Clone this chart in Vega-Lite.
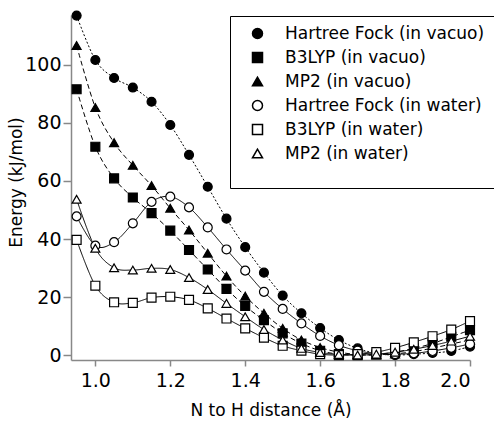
{
  "$schema": "https://vega.github.io/schema/vega-lite/v6.json",
  "autosize": {"type": "none"},
  "padding": {"left": 71, "top": 15, "right": 24, "bottom": 63},
  "width": 399,
  "height": 345,
  "background": "white",
  "config": {
    "view": {"stroke": null},
    "font": "DejaVu Sans",
    "axis": {
      "grid": false,
      "domainColor": "#888888",
      "tickColor": "#888888",
      "domainWidth": 1.5,
      "tickWidth": 1.5,
      "labelColor": "black",
      "titleColor": "black",
      "labelFont": "DejaVu Sans",
      "titleFont": "DejaVu Sans",
      "labelFontSize": 19,
      "titleFontSize": 17,
      "titleFontWeight": "normal"
    },
    "legend": {
      "labelFont": "DejaVu Sans",
      "labelFontSize": 17,
      "labelColor": "black",
      "labelLimit": 400
    }
  },
  "data": {
    "values": [
      {"x": 0.95, "E": 117.0, "s": "Hartree Fock (in vacuo)"},
      {"x": 1.0, "E": 101.7, "s": "Hartree Fock (in vacuo)"},
      {"x": 1.05, "E": 95.5, "s": "Hartree Fock (in vacuo)"},
      {"x": 1.1, "E": 92.2, "s": "Hartree Fock (in vacuo)"},
      {"x": 1.15, "E": 87.3, "s": "Hartree Fock (in vacuo)"},
      {"x": 1.2, "E": 79.3, "s": "Hartree Fock (in vacuo)"},
      {"x": 1.25, "E": 69.0, "s": "Hartree Fock (in vacuo)"},
      {"x": 1.3, "E": 58.0, "s": "Hartree Fock (in vacuo)"},
      {"x": 1.35, "E": 47.0, "s": "Hartree Fock (in vacuo)"},
      {"x": 1.4, "E": 37.2, "s": "Hartree Fock (in vacuo)"},
      {"x": 1.45, "E": 28.4, "s": "Hartree Fock (in vacuo)"},
      {"x": 1.5, "E": 20.5, "s": "Hartree Fock (in vacuo)"},
      {"x": 1.55, "E": 14.4, "s": "Hartree Fock (in vacuo)"},
      {"x": 1.6, "E": 9.3, "s": "Hartree Fock (in vacuo)"},
      {"x": 1.65, "E": 5.2, "s": "Hartree Fock (in vacuo)"},
      {"x": 1.7, "E": 2.3, "s": "Hartree Fock (in vacuo)"},
      {"x": 1.75, "E": 0.6, "s": "Hartree Fock (in vacuo)"},
      {"x": 1.8, "E": 0.0, "s": "Hartree Fock (in vacuo)"},
      {"x": 1.85, "E": 0.3, "s": "Hartree Fock (in vacuo)"},
      {"x": 1.9, "E": 0.7, "s": "Hartree Fock (in vacuo)"},
      {"x": 1.95, "E": 1.4, "s": "Hartree Fock (in vacuo)"},
      {"x": 2.0, "E": 2.9, "s": "Hartree Fock (in vacuo)"},

      {"x": 0.95, "E": 91.6, "s": "B3LYP (in vacuo)"},
      {"x": 1.0, "E": 71.8, "s": "B3LYP (in vacuo)"},
      {"x": 1.05, "E": 60.9, "s": "B3LYP (in vacuo)"},
      {"x": 1.1, "E": 54.3, "s": "B3LYP (in vacuo)"},
      {"x": 1.15, "E": 48.9, "s": "B3LYP (in vacuo)"},
      {"x": 1.2, "E": 42.9, "s": "B3LYP (in vacuo)"},
      {"x": 1.25, "E": 36.2, "s": "B3LYP (in vacuo)"},
      {"x": 1.3, "E": 29.5, "s": "B3LYP (in vacuo)"},
      {"x": 1.35, "E": 22.8, "s": "B3LYP (in vacuo)"},
      {"x": 1.4, "E": 16.9, "s": "B3LYP (in vacuo)"},
      {"x": 1.45, "E": 12.0, "s": "B3LYP (in vacuo)"},
      {"x": 1.5, "E": 7.5, "s": "B3LYP (in vacuo)"},
      {"x": 1.55, "E": 4.0, "s": "B3LYP (in vacuo)"},
      {"x": 1.6, "E": 1.5, "s": "B3LYP (in vacuo)"},
      {"x": 1.65, "E": 0.3, "s": "B3LYP (in vacuo)"},
      {"x": 1.7, "E": 0.0, "s": "B3LYP (in vacuo)"},
      {"x": 1.75, "E": 0.2, "s": "B3LYP (in vacuo)"},
      {"x": 1.8, "E": 1.0, "s": "B3LYP (in vacuo)"},
      {"x": 1.85, "E": 2.3, "s": "B3LYP (in vacuo)"},
      {"x": 1.9, "E": 4.0, "s": "B3LYP (in vacuo)"},
      {"x": 1.95, "E": 6.3, "s": "B3LYP (in vacuo)"},
      {"x": 2.0, "E": 8.6, "s": "B3LYP (in vacuo)"},

      {"x": 0.95, "E": 106.7, "s": "MP2 (in vacuo)"},
      {"x": 1.0, "E": 85.3, "s": "MP2 (in vacuo)"},
      {"x": 1.05, "E": 73.2, "s": "MP2 (in vacuo)"},
      {"x": 1.1, "E": 65.4, "s": "MP2 (in vacuo)"},
      {"x": 1.15, "E": 58.4, "s": "MP2 (in vacuo)"},
      {"x": 1.2, "E": 50.6, "s": "MP2 (in vacuo)"},
      {"x": 1.25, "E": 43.1, "s": "MP2 (in vacuo)"},
      {"x": 1.3, "E": 35.1, "s": "MP2 (in vacuo)"},
      {"x": 1.35, "E": 27.2, "s": "MP2 (in vacuo)"},
      {"x": 1.4, "E": 20.3, "s": "MP2 (in vacuo)"},
      {"x": 1.45, "E": 14.4, "s": "MP2 (in vacuo)"},
      {"x": 1.5, "E": 9.2, "s": "MP2 (in vacuo)"},
      {"x": 1.55, "E": 5.2, "s": "MP2 (in vacuo)"},
      {"x": 1.6, "E": 2.6, "s": "MP2 (in vacuo)"},
      {"x": 1.65, "E": 1.0, "s": "MP2 (in vacuo)"},
      {"x": 1.7, "E": 0.2, "s": "MP2 (in vacuo)"},
      {"x": 1.75, "E": 0.0, "s": "MP2 (in vacuo)"},
      {"x": 1.8, "E": 0.4, "s": "MP2 (in vacuo)"},
      {"x": 1.85, "E": 1.2, "s": "MP2 (in vacuo)"},
      {"x": 1.9, "E": 2.4, "s": "MP2 (in vacuo)"},
      {"x": 1.95, "E": 3.8, "s": "MP2 (in vacuo)"},
      {"x": 2.0, "E": 5.2, "s": "MP2 (in vacuo)"},

      {"x": 0.95, "E": 47.8, "s": "Hartree Fock (in water)"},
      {"x": 1.0, "E": 37.7, "s": "Hartree Fock (in water)"},
      {"x": 1.05, "E": 38.9, "s": "Hartree Fock (in water)"},
      {"x": 1.1, "E": 45.4, "s": "Hartree Fock (in water)"},
      {"x": 1.15, "E": 52.8, "s": "Hartree Fock (in water)"},
      {"x": 1.2, "E": 54.6, "s": "Hartree Fock (in water)"},
      {"x": 1.25, "E": 50.9, "s": "Hartree Fock (in water)"},
      {"x": 1.3, "E": 44.0, "s": "Hartree Fock (in water)"},
      {"x": 1.35, "E": 36.4, "s": "Hartree Fock (in water)"},
      {"x": 1.4, "E": 29.1, "s": "Hartree Fock (in water)"},
      {"x": 1.45, "E": 21.8, "s": "Hartree Fock (in water)"},
      {"x": 1.5, "E": 15.9, "s": "Hartree Fock (in water)"},
      {"x": 1.55, "E": 10.9, "s": "Hartree Fock (in water)"},
      {"x": 1.6, "E": 6.6, "s": "Hartree Fock (in water)"},
      {"x": 1.65, "E": 3.4, "s": "Hartree Fock (in water)"},
      {"x": 1.7, "E": 1.5, "s": "Hartree Fock (in water)"},
      {"x": 1.75, "E": 0.5, "s": "Hartree Fock (in water)"},
      {"x": 1.8, "E": 0.3, "s": "Hartree Fock (in water)"},
      {"x": 1.85, "E": 0.6, "s": "Hartree Fock (in water)"},
      {"x": 1.9, "E": 1.4, "s": "Hartree Fock (in water)"},
      {"x": 1.95, "E": 2.5, "s": "Hartree Fock (in water)"},
      {"x": 2.0, "E": 3.8, "s": "Hartree Fock (in water)"},

      {"x": 0.95, "E": 39.7, "s": "B3LYP (in water)"},
      {"x": 1.0, "E": 23.9, "s": "B3LYP (in water)"},
      {"x": 1.05, "E": 18.2, "s": "B3LYP (in water)"},
      {"x": 1.1, "E": 18.0, "s": "B3LYP (in water)"},
      {"x": 1.15, "E": 19.8, "s": "B3LYP (in water)"},
      {"x": 1.2, "E": 20.1, "s": "B3LYP (in water)"},
      {"x": 1.25, "E": 19.0, "s": "B3LYP (in water)"},
      {"x": 1.3, "E": 16.1, "s": "B3LYP (in water)"},
      {"x": 1.35, "E": 12.6, "s": "B3LYP (in water)"},
      {"x": 1.4, "E": 9.2, "s": "B3LYP (in water)"},
      {"x": 1.45, "E": 6.0, "s": "B3LYP (in water)"},
      {"x": 1.5, "E": 3.2, "s": "B3LYP (in water)"},
      {"x": 1.55, "E": 1.5, "s": "B3LYP (in water)"},
      {"x": 1.6, "E": 0.3, "s": "B3LYP (in water)"},
      {"x": 1.65, "E": 0.0, "s": "B3LYP (in water)"},
      {"x": 1.7, "E": 0.3, "s": "B3LYP (in water)"},
      {"x": 1.75, "E": 1.0, "s": "B3LYP (in water)"},
      {"x": 1.8, "E": 2.5, "s": "B3LYP (in water)"},
      {"x": 1.85, "E": 4.4, "s": "B3LYP (in water)"},
      {"x": 1.9, "E": 6.5, "s": "B3LYP (in water)"},
      {"x": 1.95, "E": 8.8, "s": "B3LYP (in water)"},
      {"x": 2.0, "E": 11.7, "s": "B3LYP (in water)"},

      {"x": 0.95, "E": 53.7, "s": "MP2 (in water)"},
      {"x": 1.0, "E": 36.8, "s": "MP2 (in water)"},
      {"x": 1.05, "E": 30.1, "s": "MP2 (in water)"},
      {"x": 1.1, "E": 29.3, "s": "MP2 (in water)"},
      {"x": 1.15, "E": 29.9, "s": "MP2 (in water)"},
      {"x": 1.2, "E": 29.5, "s": "MP2 (in water)"},
      {"x": 1.25, "E": 26.7, "s": "MP2 (in water)"},
      {"x": 1.3, "E": 22.6, "s": "MP2 (in water)"},
      {"x": 1.35, "E": 17.8, "s": "MP2 (in water)"},
      {"x": 1.4, "E": 13.2, "s": "MP2 (in water)"},
      {"x": 1.45, "E": 8.8, "s": "MP2 (in water)"},
      {"x": 1.5, "E": 5.2, "s": "MP2 (in water)"},
      {"x": 1.55, "E": 2.3, "s": "MP2 (in water)"},
      {"x": 1.6, "E": 0.9, "s": "MP2 (in water)"},
      {"x": 1.65, "E": 0.2, "s": "MP2 (in water)"},
      {"x": 1.7, "E": 0.0, "s": "MP2 (in water)"},
      {"x": 1.75, "E": 0.3, "s": "MP2 (in water)"},
      {"x": 1.8, "E": 1.0, "s": "MP2 (in water)"},
      {"x": 1.85, "E": 2.0, "s": "MP2 (in water)"},
      {"x": 1.9, "E": 3.3, "s": "MP2 (in water)"},
      {"x": 1.95, "E": 4.8, "s": "MP2 (in water)"},
      {"x": 2.0, "E": 6.5, "s": "MP2 (in water)"}
    ]
  },
  "encoding": {
    "x": {
      "field": "x", "type": "quantitative",
      "scale": {"domain": [0.935, 2.0], "nice": false, "zero": false},
      "axis": {
        "title": "N to H distance (Å)",
        "values": [1.0, 1.2, 1.4, 1.6, 1.8, 2.0],
        "format": ".1f",
        "tickSize": 6,
        "labelPadding": 5,
        "titleY": 42
      }
    },
    "y": {
      "field": "E", "type": "quantitative",
      "scale": {"domain": [-1.7, 117.2], "nice": false, "zero": false},
      "axis": {
        "title": "Energy (kJ/mol)",
        "values": [0, 20, 40, 60, 80, 100],
        "tickSize": 8,
        "labelPadding": 2,
        "titleX": -46,
        "titleY": 167
      }
    }
  },
  "layer": [
    {
      "mark": {"type": "line", "interpolate": "cardinal", "color": "black", "strokeWidth": 1},
      "encoding": {
        "detail": {"field": "s"},
        "strokeDash": {
          "field": "s",
          "scale": {
            "domain": ["MP2 (in water)", "B3LYP (in water)", "Hartree Fock (in water)", "MP2 (in vacuo)", "B3LYP (in vacuo)", "Hartree Fock (in vacuo)"],
            "range": [[1, 0], [1, 0], [1, 0], [5, 3], [5, 3], [2, 2]]
          },
          "legend": null
        }
      }
    },
    {
      "mark": {"type": "point", "filled": false, "strokeWidth": 1.2, "opacity": 1, "size": 80},
      "encoding": {
        "shape": {
          "field": "s", "type": "nominal",
          "scale": {
            "domain": ["Hartree Fock (in vacuo)", "B3LYP (in vacuo)", "MP2 (in vacuo)", "Hartree Fock (in water)", "B3LYP (in water)", "MP2 (in water)"],
            "range": ["circle", "square", "triangle-up", "circle", "square", "triangle-up"]
          },
          "legend": {
            "title": " ",
            "titleOrient": "bottom",
            "titleFontSize": 12,
            "titlePadding": 6,
            "orient": "none",
            "legendX": 159,
            "legendY": 1,
            "strokeColor": "black",
            "padding": 9,
            "rowPadding": 6,
            "symbolOffset": 10,
            "labelOffset": 19,
            "symbolSize": 100,
            "symbolStrokeWidth": 1.5
          }
        },
        "fill": {
          "field": "s", "type": "nominal",
          "scale": {
            "domain": ["Hartree Fock (in vacuo)", "B3LYP (in vacuo)", "MP2 (in vacuo)", "Hartree Fock (in water)", "B3LYP (in water)", "MP2 (in water)"],
            "range": ["black", "black", "black", "white", "white", "white"]
          },
          "legend": {
            "title": " ",
            "titleOrient": "bottom",
            "titleFontSize": 12,
            "titlePadding": 6,
            "orient": "none",
            "legendX": 159,
            "legendY": 1,
            "strokeColor": "black",
            "padding": 9,
            "rowPadding": 6,
            "symbolOffset": 10,
            "labelOffset": 19,
            "symbolSize": 100,
            "symbolStrokeWidth": 1.5
          }
        },
        "stroke": {
          "field": "s", "type": "nominal",
          "scale": {
            "domain": ["Hartree Fock (in vacuo)", "B3LYP (in vacuo)", "MP2 (in vacuo)", "Hartree Fock (in water)", "B3LYP (in water)", "MP2 (in water)"],
            "range": ["black", "black", "black", "black", "black", "black"]
          },
          "legend": {
            "title": " ",
            "titleOrient": "bottom",
            "titleFontSize": 12,
            "titlePadding": 6,
            "orient": "none",
            "legendX": 159,
            "legendY": 1,
            "strokeColor": "black",
            "padding": 9,
            "rowPadding": 6,
            "symbolOffset": 10,
            "labelOffset": 19,
            "symbolSize": 100,
            "symbolStrokeWidth": 1.5
          }
        }
      }
    }
  ]
}
